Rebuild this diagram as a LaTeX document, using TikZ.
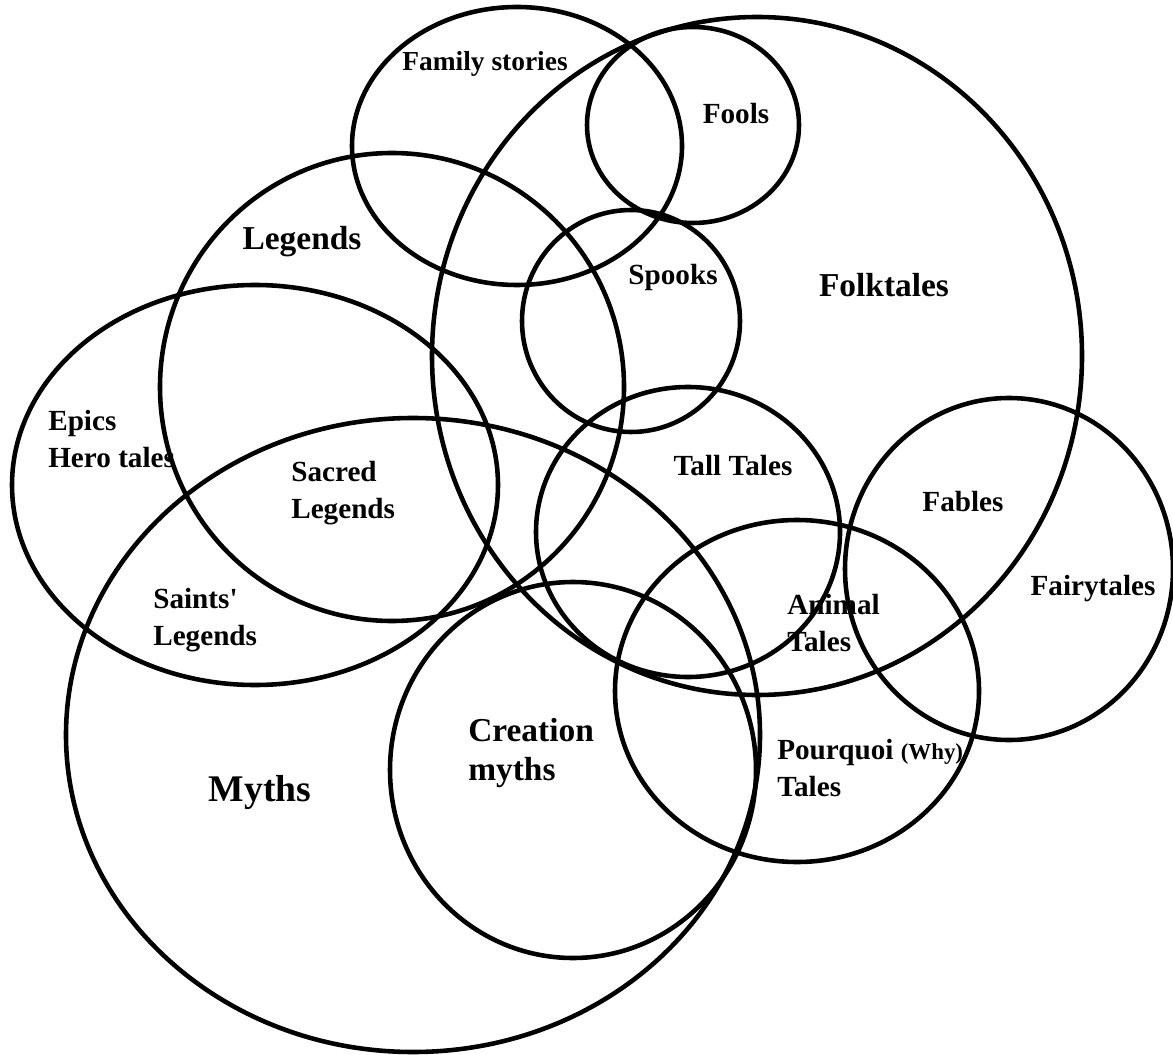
\documentclass[tikz,border=0pt]{standalone}
\usepackage{fontspec}
\setmainfont{Liberation Serif}
\begin{document}
\begin{tikzpicture}[x=0.01cm, y=-0.01cm, line width=1.3pt,
  lbl/.style={font=\bfseries\fontsize{8.3}{10.4}\selectfont, align=left, inner sep=0pt},
  biglbl/.style={lbl, font=\bfseries\fontsize{9.5}{11.3}\selectfont}]
  \useasboundingbox (0,0) rectangle (1173,1055);
  % the sets
  \draw (517,146) ellipse [x radius=165, y radius=139]; % family stories
  \draw (693,125) ellipse [x radius=106, y radius=98];  % fools
  \draw (757,356) ellipse [x radius=325, y radius=339]; % folktales
  \draw (631,321) ellipse [x radius=109, y radius=111]; % spooks
  \draw (392,387) ellipse [x radius=232, y radius=234]; % legends
  \draw (255,485) ellipse [x radius=243, y radius=200]; % epics
  \draw (413,735) ellipse [x radius=347, y radius=317]; % myths
  \draw (688,532) ellipse [x radius=152, y radius=145]; % tall tales
  \draw (797,691) ellipse [x radius=182, y radius=171]; % pourquoi
  \draw (1009,569) ellipse [x radius=164, y radius=171]; % fairytales
  \draw (573,770) ellipse [x radius=183, y radius=188]; % creation myths
  % labels
  \node[lbl, font=\bfseries\fontsize{7.8}{9}\selectfont] (family) at (485,64) {Family stories};
  \node[lbl] (fools) at (736,114) {Fools};
  \node[biglbl] (legends) at (302,242) {Legends};
  \node[lbl] (spooks) at (673,277) {Spooks};
  \node[biglbl] (folk) at (884,285) {Folktales};
  \node[lbl, anchor=west] (epics) at (46,439) {Epics\\Hero tales};
  \node[lbl, anchor=west] (sacred) at (289,493) {Sacred\\Legends};
  \node[lbl] (tall) at (733,466) {Tall Tales};
  \node[lbl] (fables) at (963,502) {Fables};
  \node[lbl] (fairy) at (1093,589) {Fairytales};
  \node[lbl, anchor=west] (saints) at (151,620) {Saints\textquotesingle\\Legends};
  \node[lbl, anchor=west] (animal) at (785,623) {Animal\\Tales};
  \node[biglbl, anchor=west] (creation) at (466,753) {Creation\\myths};
  \node[lbl, anchor=west] (pourquoi) at (775,768) {Pourquoi {\fontsize{6.5}{8}\selectfont(Why)}\\Tales};
  \node[lbl, font=\bfseries\fontsize{10.7}{12}\selectfont] (myths) at (260,792) {Myths};
\end{tikzpicture}
\end{document}
